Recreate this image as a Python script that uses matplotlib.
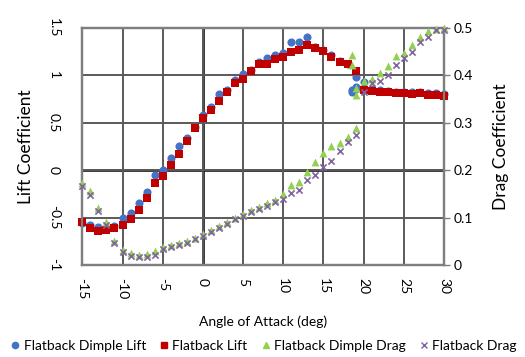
import matplotlib
matplotlib.use("Agg")
import matplotlib.pyplot as plt
from matplotlib.lines import Line2D

plt.rcParams["font.family"] = ["Lato", "DejaVu Sans"]

# angle of attack sweep (deg)
aoa = list(range(-15, 31))

dimple_lift = [-0.56, -0.58, -0.60, -0.61, -0.59, -0.50, -0.45, -0.35, -0.23, -0.05,
               0.00, 0.13, 0.25, 0.34, 0.46, 0.58, 0.67, 0.80, 0.85, 0.95,
               1.01, 1.06, 1.14, 1.18, 1.22, 1.24, 1.35, 1.35, 1.40, 1.30,
               1.27, 1.21, 1.15, 1.12, 0.98, 0.93, 0.86, 0.85, 0.84, 0.83,
               0.83, 0.82, 0.82, 0.81, 0.81, 0.80]
flat_lift = [-0.55, -0.61, -0.64, -0.63, -0.61, -0.58, -0.52, -0.42, -0.29, -0.13,
             -0.06, 0.06, 0.17, 0.31, 0.44, 0.55, 0.64, 0.73, 0.82, 0.92,
             0.96, 1.05, 1.12, 1.12, 1.17, 1.19, 1.25, 1.27, 1.32, 1.29,
             1.26, 1.19, 1.14, 1.12, 1.05, 0.85, 0.84, 0.82, 0.82, 0.81,
             0.81, 0.80, 0.81, 0.79, 0.79, 0.78]
dimple_drag = [0.172, 0.156, 0.120, 0.090, 0.050, 0.032, 0.025, 0.021, 0.023, 0.029,
               0.037, 0.042, 0.046, 0.051, 0.058, 0.065, 0.074, 0.082, 0.091, 0.100,
               0.108, 0.116, 0.123, 0.130, 0.137, 0.150, 0.169, 0.176, 0.197, 0.218,
               0.236, 0.250, 0.257, 0.271, 0.288, 0.389, 0.392, 0.406, 0.420, 0.440,
               0.447, 0.464, 0.482, 0.494, 0.498, 0.500]
flat_drag = [0.166, 0.147, 0.113, 0.085, 0.047, 0.028, 0.019, 0.016, 0.017, 0.022,
             0.033, 0.038, 0.042, 0.047, 0.054, 0.061, 0.070, 0.078, 0.087, 0.096,
             0.103, 0.111, 0.119, 0.125, 0.132, 0.140, 0.151, 0.158, 0.179, 0.190,
             0.207, 0.220, 0.240, 0.260, 0.274, 0.364, 0.383, 0.389, 0.400, 0.422,
             0.437, 0.450, 0.471, 0.480, 0.496, 0.496]

# repeated dimple readings around stall
stall_aoa = [18.5, 18.5, 19.0, 19.0]
stall_dimple_lift = [0.85, 0.83, 0.86, 0.88]
stall_dimple_drag = [0.443, 0.422, 0.373, 0.359]

x_ticks = [-15, -10, -5, 0, 5, 10, 15, 20, 25, 30]
lift_ticks = [-1, -0.5, 0, 0.5, 1, 1.5]
lift_labels = ["-1", "-0.5", "0", "0.5", "1", "1.5"]
drag_ticks = [0, 0.1, 0.2, 0.3, 0.4, 0.5]
drag_labels = ["0", "0.1", "0.2", "0.3", "0.4", "0.5"]

C_BLUE = "#4472C4"
C_RED = "#C00000"
C_GREEN = "#92D050"
C_PURPLE = "#8064A2"
C_GRID = "#5A5A5A"

fig = plt.figure(figsize=(5.25, 3.57), dpi=100)
ax = fig.add_axes([0.1568, 0.2577, 0.6889, 0.6639])
ax2 = ax.twinx()

ax.set_xlim(-15, 30)
ax.set_ylim(-1, 1.5)
ax2.set_ylim(0, 0.5)

ax.set_xticks(x_ticks)
ax.set_xticklabels([str(t) for t in x_ticks], rotation=-90, fontsize=10)
ax.set_yticks(lift_ticks)
ax.set_yticklabels(lift_labels, rotation=-90, va="center", fontsize=10)
ax2.set_yticks(drag_ticks)
ax2.set_yticklabels(drag_labels, fontsize=10)

ax.grid(True, color=C_GRID, linewidth=1.4, zorder=0)
ax.axvline(0, color="black", linewidth=1.8, zorder=0.5)
ax.axhline(0, color="black", linewidth=1.8, zorder=0.5)
for a in (ax, ax2):
    for s in a.spines.values():
        s.set_color("#7F7F7F")
        s.set_linewidth(1.6)
ax.tick_params(axis="both", length=0, pad=9, colors="black")
ax.tick_params(axis="y", pad=16)
ax2.tick_params(axis="y", length=4, width=1, color="#7F7F7F", pad=3)

ax.scatter(aoa + stall_aoa, dimple_lift + stall_dimple_lift, marker="o", s=34,
           color=C_BLUE, zorder=3, clip_on=False, linewidths=0)
ax.scatter(aoa, flat_lift, marker="s", s=38, color=C_RED, zorder=4,
           clip_on=False, linewidths=0)
ax2.scatter(aoa + stall_aoa, dimple_drag + stall_dimple_drag, marker="^", s=32,
            color=C_GREEN, zorder=3, clip_on=False, linewidths=0)
ax2.scatter(aoa, flat_drag, marker="x", s=20, color=C_PURPLE, zorder=4,
            clip_on=False, linewidths=1.2)

ax.set_ylabel("Lift Coefficient", fontsize=12.5, labelpad=10)
ax2.set_ylabel("Drag Coefficient", fontsize=12.5, labelpad=14)
ax.set_xlabel("Angle of Attack (deg)", fontsize=10, labelpad=12)

handles = [
    Line2D([], [], marker="o", ls="", color=C_BLUE, markersize=4.5),
    Line2D([], [], marker="s", ls="", color=C_RED, markersize=4.5),
    Line2D([], [], marker="^", ls="", color=C_GREEN, markersize=4.5),
    Line2D([], [], marker="x", ls="", color=C_PURPLE, markersize=4, mew=1),
]
labels = ["Flatback Dimple Lift", "Flatback Lift", "Flatback Dimple Drag", "Flatback Drag"]
fig.legend(handles, labels, loc="center", bbox_to_anchor=(0.5, 0.03), ncol=4,
           frameon=False, fontsize=10, handletextpad=0.1, columnspacing=0.8,
           handlelength=1.0)

fig.savefig("out.png", dpi=100)
